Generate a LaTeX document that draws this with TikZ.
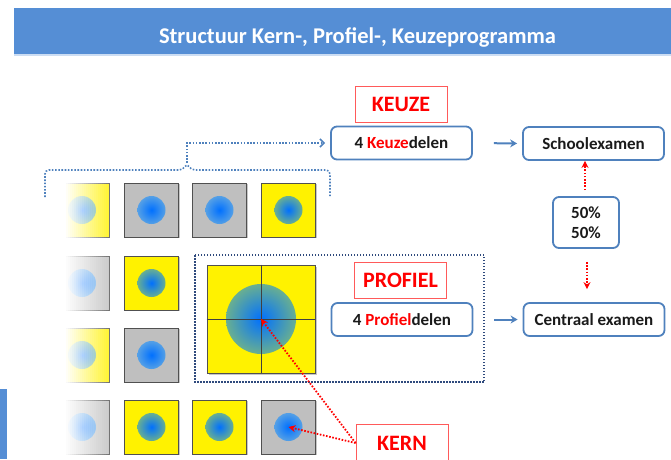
\documentclass[tikz,border=0pt]{standalone}
\usepackage{fontspec}
\setmainfont{Carlito}
\usetikzlibrary{arrows.meta}
\definecolor{titleblue}{RGB}{85,142,213}
\definecolor{boxblue}{RGB}{79,129,189}
\definecolor{navy}{RGB}{47,74,125}
\definecolor{sqgray}{RGB}{191,191,191}
\definecolor{sqedge}{RGB}{80,80,80}
\definecolor{cblue}{RGB}{0,112,255}
\definecolor{cedgeg}{RGB}{85,160,230}
\definecolor{cedgey}{RGB}{105,175,145}
\definecolor{kred}{RGB}{255,0,0}
\definecolor{lred}{RGB}{255,90,90}
\definecolor{txt}{RGB}{26,26,26}
\begin{document}
\begin{tikzpicture}[x=1pt,y=-1pt,
  sqbox/.style={rectangle, draw=sqedge, line width=0.8pt, minimum size=54pt, inner sep=0pt,
    preaction={fill=black!22, transform canvas={shift={(1.3pt,-1.3pt)}}}},
  ysq/.style={sqbox, fill=yellow},
  gsq/.style={sqbox, fill=sqgray},
  dotg/.style={circle, inner sep=0pt, minimum size=28pt, inner color=cblue, outer color=cedgeg},
  doty/.style={circle, inner sep=0pt, minimum size=28pt, inner color=cblue, outer color=cedgey},
  labelbox/.style={rectangle, draw=lred, line width=0.8pt, text=kred, font=\fontsize{22}{26}\selectfont\bfseries, minimum width=92pt, minimum height=36pt, inner sep=0pt, text height=14pt, text depth=0pt},
  partbox/.style={rectangle, draw=boxblue, line width=1.8pt, rounded corners=6pt, fill=white, font=\fontsize{17}{20}\selectfont\bfseries, text=txt, minimum width=141pt, minimum height=33pt, inner sep=0pt, text height=11pt, text depth=0pt},
  flow/.style={draw=boxblue, line width=2pt, -{Stealth[length=7pt,width=8pt]}},
  reddot/.style={draw=kred, line width=1.8pt, dash pattern=on 1.6pt off 1.6pt, -{Stealth[length=7pt,width=7pt]}},
  bracket/.style={draw=boxblue, line width=1.6pt, dash pattern=on 1.6pt off 1.6pt}
]
\useasboundingbox (0,0) rectangle (671,459);

% title bar
\fill[titleblue] (14,8) rectangle (671,54);
\fill[titleblue!30] (14,54) rectangle (671,56);
\node[text=white, font=\fontsize{22.5}{27}\selectfont\bfseries, anchor=base] (title) at (357.5,43) {Structuur Kern-, Profiel-, Keuzeprogramma};

% left blue bar
\fill[titleblue] (0,389) rectangle (7,459);

% row 1
\node[ysq] (s11) at (82,210) {};   \node[doty] (c11) at (s11) {};
\node[gsq] (s12) at (151.5,210) {}; \node[dotg] (c12) at (s12) {};
\node[gsq] (s13) at (219.5,210) {}; \node[dotg] (c13) at (s13) {};
\node[ysq] (s14) at (288.5,210) {}; \node[doty] (c14) at (s14) {};
% row 2
\node[gsq] (s21) at (82,283) {};   \node[dotg] (c21) at (s21) {};
\node[ysq] (s22) at (151.5,283) {}; \node[doty] (c22) at (s22) {};
% row 3
\node[ysq] (s31) at (82,355) {};   \node[doty] (c31) at (s31) {};
\node[gsq] (s32) at (151.5,355) {}; \node[dotg] (c32) at (s32) {};
% row 4
\node[gsq] (s41) at (82,427) {};   \node[dotg] (c41) at (s41) {};
\node[ysq] (s42) at (151.5,427) {}; \node[doty] (c42) at (s42) {};
\node[ysq] (s43) at (219.5,427) {}; \node[doty] (c43) at (s43) {};
\node[gsq] (s44) at (288.5,427) {}; \node[dotg] (c44) at (s44) {};

% fading of first column (white strips of decreasing opacity)
\foreach \yy in {210,283,355,427}{
  \foreach \i in {0,...,33}{
    \pgfmathsetmacro\op{max(0,min(1,(120-(51+2*\i))/55))}
    \fill[white, fill opacity=\op] (50+2*\i,\yy-31) rectangle (52+2*\i,\yy+31);
  }
}

% big square
\node[rectangle, draw=sqedge, line width=0.8pt, fill=yellow, minimum size=108pt, inner sep=0pt,
  preaction={fill=black!22, transform canvas={shift={(1.5pt,-1.5pt)}}}] (big) at (261,319) {};
\node[circle, inner sep=0pt, minimum size=70pt, inner color=cblue, outer color=cedgey] (bc) at (big) {};
\draw[black!75, line width=1pt] (big.north) -- (big.south);
\draw[black!75, line width=1pt] (big.west) -- (big.east);

% dotted frame
\draw[navy, line width=1.5pt, dash pattern=on 1.5pt off 1.5pt] (195,255) rectangle (484,382);

% labels and boxes
\node[labelbox] (keuze) at (401,104.5) {KEUZE};
\node[partbox] (kd) at (401.5,143) {4 \textcolor{kred}{Keuze}delen};
\node[partbox] (se) at (593.5,143.5) {Schoolexamen};
\node[partbox, minimum width=66pt, minimum height=51pt, text height=, text depth=, align=center, font=\fontsize{17}{20}\selectfont\bfseries] (pct) at (586,222.5) {50\%\\50\%};
\node[labelbox] (profiel) at (400.5,280) {PROFIEL};
\node[partbox] (pd) at (402,319.5) {4 \textcolor{kred}{Profiel}delen};
\node[partbox] (ce) at (594,319.5) {Centraal examen};
\node[labelbox, minimum height=38pt] (kern) at (402,443) {KERN};

% bracket
\coordinate (bt) at (187,163);
\draw[bracket, rounded corners=4pt] (45,197) -- (45,170) -- (183,170) -- (bt) -- (191,170) -- (330,170) -- (330,197);
\draw[bracket, -{Straight Barb[length=4pt,width=8pt]}, shorten >=5pt] (bt) -- (187,143) -- (kd.west);

% flows
\draw[flow, shorten <=21pt, shorten >=5pt] (kd.east) -- (se.west);
\draw[flow, shorten <=21pt, shorten >=5pt] (pd.east) -- (ce.west);

% red dotted arrows
\draw[reddot, shorten <=6pt] (pct.north -| 585,0) -- (se.south -| 585,0);
\draw[reddot, shorten <=13pt, shorten >=13pt] (pct.south -| 587,0) -- (ce.north -| 587,0);
\draw[reddot] (kern.west) -- (bc.center);
\draw[reddot] (kern.west) -- (c44.center);
\end{tikzpicture}
\end{document}
